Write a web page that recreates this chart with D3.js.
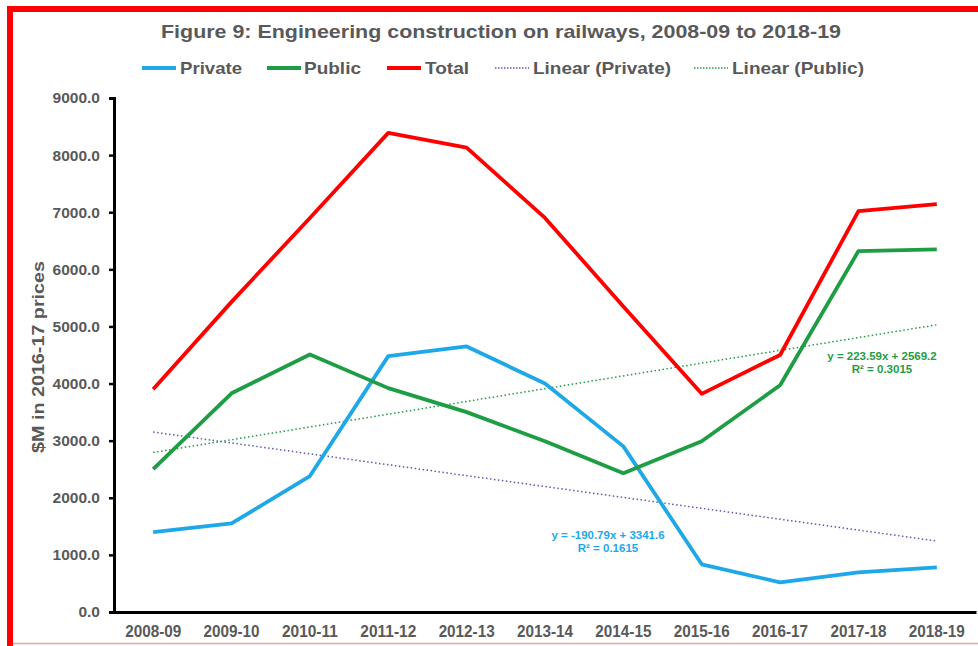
<!DOCTYPE html>
<html>
<head>
<meta charset="utf-8">
<script src="https://cdn.jsdelivr.net/npm/d3@7"></script>
<style>
  body { margin: 0; background: #fff; }
  text { font-family: "Liberation Sans Narrow", "Arial Narrow", "Liberation Sans", Arial, sans-serif; font-weight: bold; fill: #595959; }
</style>
</head>
<body>
<div id="chart"></div>
<script>
// engineering construction on railways, private / public / total
var years = ["2008-09", "2009-10", "2010-11", "2011-12", "2012-13", "2013-14",
             "2014-15", "2015-16", "2016-17", "2017-18", "2018-19"];
var privateVals = [1400, 1550, 2380, 4480, 4650, 4000, 2900, 835, 520, 695, 780];
var publicVals  = [2500, 3830, 4510, 3920, 3500, 2990, 2430, 2990, 3970, 6320, 6350];
var totalVals   = [3900, 5430, 6900, 8390, 8130, 6900, 5350, 3820, 4500, 7020, 7140];
var yTicks = [0, 1000, 2000, 3000, 4000, 5000, 6000, 7000, 8000, 9000];
// excel trendline equations shown on the chart: [slope, intercept], x = 1..11
var privateTrend = [-190.79, 3341.6];
var publicTrend  = [223.59, 2569.2];

var width = 978;
var height = 646;
var plotLeft = 114, plotRight = 976, plotTop = 98, plotBottom = 612;

var svg = d3.select("#chart").append("svg")
    .attr("width", width)
    .attr("height", height);

svg.append("rect").attr("width", width).attr("height", height).attr("fill", "#fff");

// red frame (left + top), faint bottom edge
svg.append("path")
    .attr("d", "M10,646 L10,9 L978,9")
    .attr("fill", "none")
    .attr("stroke", "#ff0000")
    .attr("stroke-width", 6);
svg.append("line")
    .attr("x1", 13).attr("x2", 978).attr("y1", 643.5).attr("y2", 643.5)
    .attr("stroke", "#f4a0a0").attr("stroke-width", 1.5);

var x = d3.scaleBand().domain(years).range([plotLeft, plotRight]);
var y = d3.scaleLinear().domain([0, 9000]).range([plotBottom, plotTop]);

// title
svg.append("text")
    .attr("x", 501).attr("y", 38)
    .attr("text-anchor", "middle")
    .attr("textLength", 680)
    .attr("lengthAdjust", "spacingAndGlyphs")
    .style("font-size", "19px")
    .text("Figure 9: Engineering construction on railways, 2008-09 to 2018-19");

// legend
var legend = [
    {name: "Private", color: "#1ea8e8", dash: null, x: 142, w: 38, tl: 62},
    {name: "Public", color: "#1f9d45", dash: null, x: 267, w: 37, tl: 57},
    {name: "Total", color: "#ff0000", dash: null, x: 387, w: 38, tl: 44},
    {name: "Linear (Private)", color: "#5b5bb0", dash: "1.5,1.5", x: 495, w: 38, tl: 138},
    {name: "Linear (Public)", color: "#1f9d45", dash: "1.5,1.5", x: 694, w: 38, tl: 132}
];
var lg = svg.append("g").selectAll("g").data(legend).enter().append("g");
lg.append("line")
    .attr("x1", function(d) { return d.x; })
    .attr("x2", function(d) { return d.x + 34; })
    .attr("y1", 68).attr("y2", 68)
    .attr("stroke", function(d) { return d.color; })
    .attr("stroke-width", function(d) { return d.dash ? 1.5 : 4; })
    .attr("stroke-dasharray", function(d) { return d.dash; });
lg.append("text")
    .attr("x", function(d) { return d.x + d.w; })
    .attr("y", 74)
    .attr("textLength", function(d) { return d.tl; })
    .attr("lengthAdjust", "spacingAndGlyphs")
    .style("font-size", "17px")
    .text(function(d) { return d.name; });

// y axis
var yAxis = svg.append("g")
    .attr("transform", "translate(" + plotLeft + ",0)")
    .call(d3.axisLeft(y).tickValues(yTicks).tickFormat(d3.format(".1f")).tickSize(5).tickPadding(9));
yAxis.select(".domain").attr("stroke", "#000").attr("stroke-width", 3);
yAxis.selectAll(".tick line").attr("stroke", "#000").attr("stroke-width", 2.5);
yAxis.selectAll(".tick text")
    .attr("fill", "#595959")
    .style("font-family", "'Liberation Sans', Arial, sans-serif")
    .style("font-size", "15.5px");

// x axis
var xAxis = svg.append("g")
    .attr("transform", "translate(0," + plotBottom + ")")
    .call(d3.axisBottom(x).tickSize(0).tickPadding(14));
xAxis.select(".domain").attr("stroke", "#000").attr("stroke-width", 3);
xAxis.selectAll(".tick text")
    .attr("fill", "#595959")
    .attr("textLength", 56)
    .attr("lengthAdjust", "spacingAndGlyphs")
    .style("font-size", "16px");

// y axis title
svg.append("text")
    .attr("transform", "translate(44," + 357 + ") rotate(-90)")
    .attr("text-anchor", "middle")
    .attr("textLength", 192)
    .attr("lengthAdjust", "spacingAndGlyphs")
    .style("font-family", "'Liberation Sans', Arial, sans-serif")
    .style("font-size", "17px")
    .text("$M in 2016-17 prices");

var cx = function(d, i) { return x(years[i]) + x.bandwidth() / 2; };
var line = d3.line().x(cx).y(function(d) { return y(d); });

// trendlines
function trend(coef) {
    return [coef[0] * 1 + coef[1], coef[0] * years.length + coef[1]];
}
var trendX = d3.scaleLinear().domain([1, years.length])
    .range([x(years[0]) + x.bandwidth() / 2, x(years[years.length - 1]) + x.bandwidth() / 2]);
[[privateTrend, "#5b5bb0"], [publicTrend, "#1f9d45"]].forEach(function(t) {
    var v = trend(t[0]);
    svg.append("line")
        .attr("x1", trendX(1)).attr("x2", trendX(years.length))
        .attr("y1", y(v[0])).attr("y2", y(v[1]))
        .attr("stroke", t[1])
        .attr("stroke-width", 1.5)
        .attr("stroke-dasharray", "1.5,2.5");
});

// series
[[privateVals, "#1ea8e8"], [publicVals, "#1f9d45"], [totalVals, "#ff0000"]].forEach(function(s) {
    svg.append("path")
        .datum(s[0])
        .attr("d", line)
        .attr("fill", "none")
        .attr("stroke", s[1])
        .attr("stroke-width", 3.8)
        .attr("stroke-linejoin", "round");
});

// trendline equations
function equation(coef, r2, px, py, color) {
    var sign = coef[1] >= 0 ? " + " : " - ";
    var g = svg.append("g").attr("text-anchor", "middle")
        .style("font-family", "'Liberation Sans', Arial, sans-serif")
        .style("font-size", "11.5px");
    g.append("text").attr("x", px).attr("y", py).style("fill", color)
        .text("y = " + coef[0] + "x " + sign + Math.abs(coef[1]));
    g.append("text").attr("x", px).attr("y", py + 13).style("fill", color)
        .text("R² = " + r2);
}
equation(privateTrend, "0.1615", 608, 539, "#1ea8e8");
equation(publicTrend, "0.3015", 882, 360, "#1f9d45");
</script>
</body>
</html>
